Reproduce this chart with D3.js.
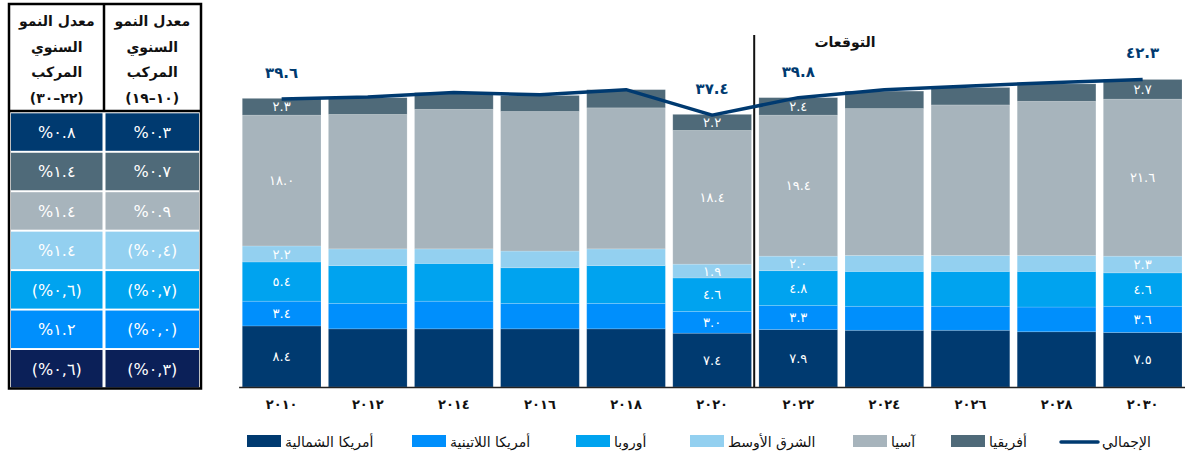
<!DOCTYPE html>
<html>
<head>
<meta charset="utf-8">
<script src="https://cdn.jsdelivr.net/npm/d3@7"></script>
<style>
  html, body { margin: 0; padding: 0; background: #fff; }
  svg { display: block; font-family: "DejaVu Sans", "Liberation Sans", sans-serif; }
  .num { unicode-bidi: bidi-override; direction: ltr; }
</style>
</head>
<body>
<svg id="chart" width="1185" height="457"></svg>
<script>
// ---------- data ----------
const years = [2010, 2012, 2014, 2016, 2018, 2020, 2022, 2024, 2026, 2028, 2030];
const yearLabels = ["٢٠١٠", "٢٠١٢", "٢٠١٤", "٢٠١٦", "٢٠١٨", "٢٠٢٠", "٢٠٢٢", "٢٠٢٤", "٢٠٢٦", "٢٠٢٨", "٢٠٣٠"];
const northAmerica = [8.4, 8.0, 8.0, 8.0, 8.0, 7.4, 7.9, 7.8, 7.8, 7.6, 7.5];
const latinAmerica = [3.4, 3.5, 3.8, 3.5, 3.5, 3.0, 3.3, 3.3, 3.3, 3.4, 3.6];
const europe       = [5.4, 5.2, 5.2, 4.9, 5.2, 4.6, 4.8, 4.8, 4.8, 4.9, 4.6];
const middleEast   = [2.2, 2.3, 2.0, 2.3, 2.3, 1.9, 2.0, 2.2, 2.2, 2.2, 2.3];
const asia         = [18.0, 18.5, 19.2, 19.2, 19.4, 18.4, 19.4, 20.2, 20.7, 21.2, 21.6];
const africa       = [2.3, 2.3, 2.3, 2.2, 2.5, 2.2, 2.4, 2.4, 2.4, 2.4, 2.7];
const total        = [39.6, 39.9, 40.5, 40.2, 40.9, 37.4, 39.8, 40.9, 41.4, 41.9, 42.3];
const labeledYears = [2010, 2020, 2022, 2030];
const forecastStart = 2022;
const forecastLabel = "التوقعات";

const seriesNames = ["أمريكا الشمالية", "أمريكا اللاتينية", "أوروبا", "الشرق الأوسط", "آسيا", "أفريقيا"];
const seriesKeys = ["na", "la", "eu", "me", "as", "af"];
const seriesColors = ["#003a70", "#008ffc", "#00a3ef", "#93d0f0", "#a7b4bc", "#4f6a79"];
const totalName = "الإجمالي";
const totalColor = "#003a70";

// CAGR table (rows top to bottom: total, Africa, Asia, Middle East, Europe, Latin America, North America)
const tableHeader = ["معدل النمو", "السنوي", "المركب"];
const periodLabels = ["(١٩–١٠)", "(٣٠–٢٢)"];
const cagr2010_19 = [0.3, 0.7, 0.9, -0.4, -0.7, -0.0, -0.3];
const cagr2022_30 = [0.8, 1.4, 1.4, 1.4, -0.6, 1.2, -0.6];
const tableColors = ["#003a70", "#4f6a79", "#a7b4bc", "#93d0f0", "#00a3ef", "#008ffc", "#0b2058"];
const negFlags2010 = [false, false, false, true, true, true, true];

// ---------- helpers ----------
const arDigits = "٠١٢٣٤٥٦٧٨٩";
function toAr(s) { return String(s).replace(/[0-9]/g, d => arDigits[+d]); }
function fmt1(v) { return toAr(v.toFixed(1)); }
function fmtPct(v, neg) {
  const a = Math.abs(v).toFixed(1);
  if (neg) return "(%" + toAr(a.replace(".", ",")) + ")";
  return "%" + toAr(a);
}

// ---------- chart ----------
const svg = d3.select("#chart");
const rows = years.map((y, i) => ({
  year: y, na: northAmerica[i], la: latinAmerica[i], eu: europe[i],
  me: middleEast[i], as: asia[i], af: africa[i], total: total[i]
}));

const x = d3.scaleBand().domain(years).range([238.6, 1185.7]).paddingInner(0.086).paddingOuter(0.043);
const y = d3.scaleLinear().domain([0, 50]).range([387, 387 - 50 * 7.27]);

const stack = d3.stack().keys(seriesKeys)(rows);

const g = svg.append("g");
stack.forEach((layer, li) => {
  g.append("g").selectAll("rect").data(layer).join("rect")
    .attr("x", d => x(d.data.year))
    .attr("y", d => y(d[1]))
    .attr("width", x.bandwidth())
    .attr("height", d => y(d[0]) - y(d[1]))
    .attr("fill", seriesColors[li])
    .attr("stroke", "#ffffff").attr("stroke-opacity", 0.2).attr("stroke-width", 0.8);
});

// segment labels
stack.forEach((layer, li) => {
  g.append("g").selectAll("text").data(layer.filter(d => labeledYears.includes(d.data.year))).join("text")
    .attr("class", "num")
    .attr("x", d => x(d.data.year) + x.bandwidth() / 2)
    .attr("y", d => (y(d[0]) + y(d[1])) / 2)
    .attr("dy", "0.35em")
    .attr("text-anchor", "middle")
    .attr("fill", "#ffffff")
    .attr("font-size", 13)
    .attr("letter-spacing", 1)
    .text(d => fmt1(d.data[seriesKeys[li]]));
});

// axis
const xAxis = d3.axisBottom(x).tickSize(0).tickPadding(13).tickFormat((d, i) => yearLabels[i]);
const ax = svg.append("g").attr("transform", `translate(0,${y(0)})`).call(xAxis);
ax.select(".domain").attr("stroke", "#222").attr("stroke-width", 1.5);
ax.selectAll("text").attr("font-size", 13).attr("font-weight", "bold").attr("fill", "#111")
  .attr("letter-spacing", 2).attr("font-family", "DejaVu Sans, sans-serif");

// forecast divider
const divX = x(forecastStart) - (x.step() - x.bandwidth()) / 2 - 1;
svg.append("line").attr("x1", divX).attr("x2", divX).attr("y1", 35).attr("y2", y(0))
  .attr("stroke", "#111").attr("stroke-width", 2);
svg.append("text").attr("x", 845).attr("y", 47).attr("text-anchor", "middle")
  .attr("font-size", 14).attr("font-weight", "bold").attr("fill", "#111").text(forecastLabel);

// total line
const line = d3.line().x(d => x(d.year) + x.bandwidth() / 2).y(d => y(d.total));
svg.append("path").datum(rows).attr("d", line).attr("fill", "none")
  .attr("stroke", totalColor).attr("stroke-width", 3.5).attr("stroke-linejoin", "round");

svg.append("g").selectAll("text").data(rows.filter(d => labeledYears.includes(d.year))).join("text")
  .attr("class", "num")
  .attr("x", d => x(d.year) + x.bandwidth() / 2)
  .attr("y", d => y(d.total) - 21)
  .attr("text-anchor", "middle")
  .attr("font-size", 15).attr("font-weight", "bold").attr("fill", totalColor)
  .attr("letter-spacing", 2)
  .text(d => fmt1(d.total));

// legend
const legendItems = [
  { name: seriesNames[0], color: seriesColors[0], x: 247 },
  { name: seriesNames[1], color: seriesColors[1], x: 412 },
  { name: seriesNames[2], color: seriesColors[2], x: 576 },
  { name: seriesNames[3], color: seriesColors[3], x: 690 },
  { name: seriesNames[4], color: seriesColors[4], x: 853 },
  { name: seriesNames[5], color: seriesColors[5], x: 951 }
];
const lg = svg.append("g");
legendItems.forEach(it => {
  lg.append("rect").attr("x", it.x).attr("y", 435).attr("width", 34).attr("height", 12).attr("fill", it.color);
  lg.append("text").attr("x", it.x + 38).attr("y", 447).attr("font-size", 14).attr("fill", "#111").text(it.name);
});
lg.append("line").attr("x1", 1061).attr("x2", 1098).attr("y1", 442).attr("y2", 442)
  .attr("stroke", totalColor).attr("stroke-width", 3.5).attr("stroke-linecap", "round");
lg.append("text").attr("x", 1102).attr("y", 447).attr("font-size", 14).attr("fill", "#111").text(totalName);

// ---------- table ----------
const tb = svg.append("g");
const colX = [11, 105.5];          // left col = 2022-30, right col = 2010-19
const colW = [91.5, 93.5];
const rowTop0 = 113.3, rowPitch = 39.45, rowH = 37.5;
const tableVals = [cagr2022_30, cagr2010_19];
const tableNeg = [cagr2022_30.map(v => v < 0 || Object.is(v, -0)), negFlags2010];
tableColors.forEach((c, r) => {
  [0, 1].forEach(ci => {
    const ry = rowTop0 + r * rowPitch;
    tb.append("rect").attr("x", colX[ci]).attr("y", ry).attr("width", colW[ci]).attr("height", rowH).attr("fill", c);
    tb.append("text").attr("class", "num")
      .attr("x", colX[ci] + colW[ci] / 2).attr("y", ry + rowH / 2).attr("dy", "0.36em")
      .attr("text-anchor", "middle").attr("font-size", 16).attr("fill", "#fff")
      .attr("letter-spacing", 1)
      .text(fmtPct(tableVals[ci][r], tableNeg[ci][r]));
  });
});
// header
[0, 1].forEach(ci => {
  const cx = colX[ci] + colW[ci] / 2;
  tableHeader.forEach((t, k) => {
    tb.append("text").attr("x", cx).attr("y", 26 + k * 25.5).attr("text-anchor", "middle")
      .attr("font-size", 14).attr("font-weight", "bold").attr("fill", "#111").text(t);
  });
  tb.append("text").attr("class", "num").attr("x", cx).attr("y", 26 + 3 * 25.5).attr("text-anchor", "middle")
    .attr("font-size", 14).attr("font-weight", "bold").attr("fill", "#111").attr("letter-spacing", 1)
    .text(periodLabels[1 - ci]);
});
tb.append("line").attr("x1", 104).attr("x2", 104).attr("y1", 4).attr("y2", 111).attr("stroke", "#000").attr("stroke-width", 2.5);
tb.append("line").attr("x1", 9).attr("x2", 201).attr("y1", 111).attr("y2", 111).attr("stroke", "#000").attr("stroke-width", 2.5);
tb.append("rect").attr("x", 9).attr("y", 4).attr("width", 192).attr("height", 384.5)
  .attr("fill", "none").attr("stroke", "#000").attr("stroke-width", 2.5);
</script>
</body>
</html>
